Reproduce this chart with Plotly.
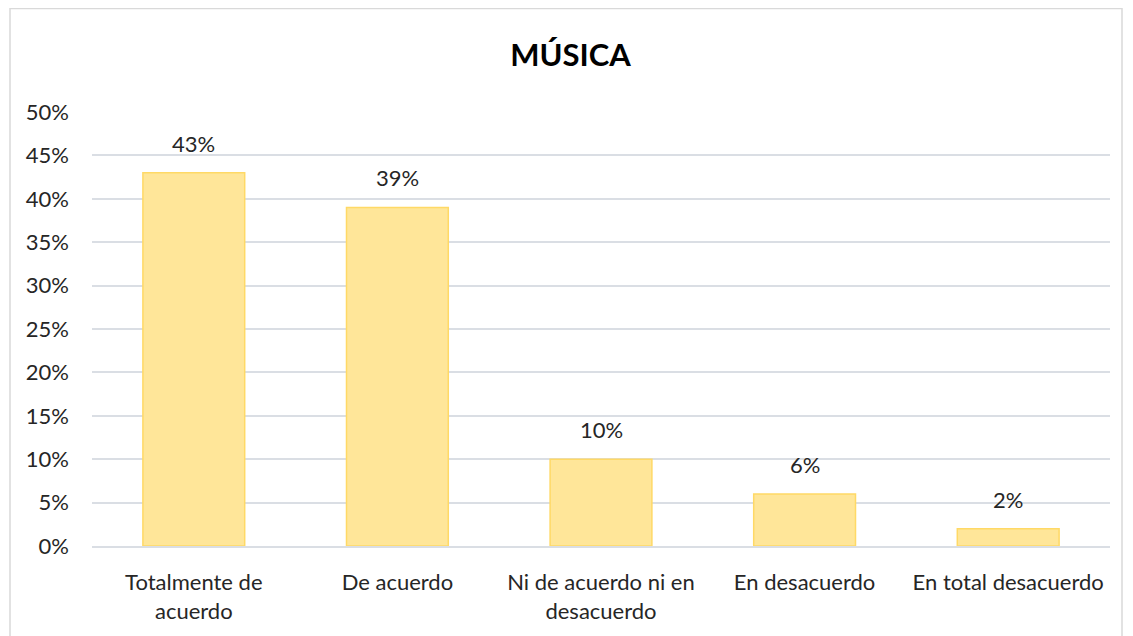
import plotly.graph_objects as go

categories = ["Totalmente de<br>acuerdo", "De acuerdo", "Ni de acuerdo ni en<br>desacuerdo",
              "En desacuerdo", "En total desacuerdo"]
values = [0.43, 0.39, 0.10, 0.06, 0.02]
title = "MÚSICA"

# page has an 8px body margin, so the figure is drawn 8px in from the window edge
W, H = 1125, 628
ml, mr, mt, mb = 84, 23, 104, 84
pw, ph = W - ml - mr, H - mt - mb

FONT = "Lato, Carlito, Calibri, Open Sans, sans-serif"
TXT = "#262626"

fig = go.Figure(go.Bar(
    x=categories, y=values,
    marker=dict(color="#FFE699", line=dict(color="#FFD966", width=1.5)),
))

for c, v in zip(categories, values):
    fig.add_annotation(x=c, y=v, text=f"{round(v*100)}%", showarrow=False,
                       yanchor="bottom", yshift=14, font=dict(size=22, color=TXT, family=FONT))

fig.update_layout(
    width=W, height=H,
    margin=dict(l=ml, r=mr, t=mt, b=mb),
    paper_bgcolor="white", plot_bgcolor="white",
    font=dict(family=FONT, color=TXT, size=22),
    title=dict(text="<b>" + title + "</b>", x=0.5, xanchor="center", y=1 - 47/H, yanchor="middle",
               font=dict(size=31, color="#000000", family=FONT)),
    bargap=0.5,
    showlegend=False,
    yaxis=dict(range=[0, 0.5], dtick=0.05, tickformat=".0%", gridcolor="#DADEE4",
               gridwidth=1.5, zeroline=False, showline=False, ticks="",
               tickfont=dict(size=22, color=TXT), ticklabelstandoff=22),
    xaxis=dict(showline=True, linecolor="#DADEE4", linewidth=1.5, ticks="",
               tickfont=dict(size=22, color=TXT), ticklabelstandoff=16),
    shapes=[dict(type="rect", xref="paper", yref="paper",
                 x0=(2 - ml) / pw, x1=(1114 - ml) / pw,
                 y0=(H - mb - 640) / ph, y1=(H - mb - (-1)) / ph,
                 line=dict(color="#D9D9D9", width=1.5), fillcolor="rgba(0,0,0,0)", layer="below")],
)

fig.write_html("out.html")
